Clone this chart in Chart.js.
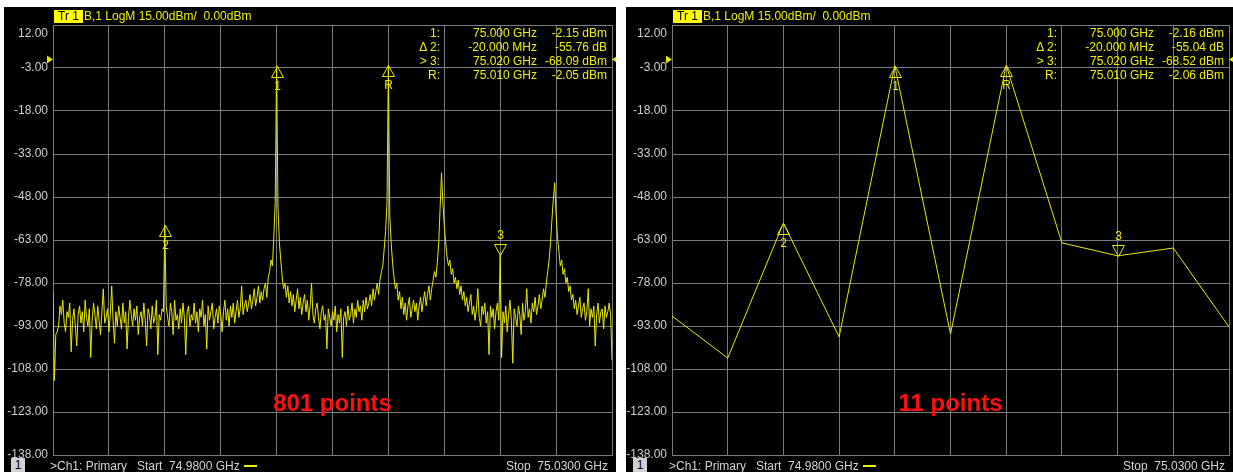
<!DOCTYPE html>
<html>
<head>
<meta charset="utf-8">
<script src="https://cdn.jsdelivr.net/npm/chart.js@4.4.1/dist/chart.umd.min.js"></script>
<style>
body{margin:0;background:#fff;width:1233px;height:472px;overflow:hidden;position:relative;font-family:"Liberation Sans",Arial,sans-serif;font-size:12px;}
.panel{position:absolute;background:#000;}
canvas{position:absolute;}
.t{position:absolute;white-space:pre;line-height:14px;}
.yel{color:#eeee00;}
.gry{color:#d4d4d4;}
.trbox{position:absolute;background:#ffff00;color:#000;line-height:13px;height:13px;padding:0 4px;white-space:pre;}
.chbox{position:absolute;background:#d0d0d0;color:#000;width:14px;height:14px;line-height:14px;text-align:center;}
.big{position:absolute;color:#ff1010;font-weight:bold;font-size:24px;line-height:24px;white-space:pre;transform:translateX(-50%);}
</style>
</head>
<body>
<div class="panel" style="left:4px;top:7px;width:612px;height:465px"></div>
<div class="panel" style="left:626px;top:7px;width:607px;height:465px"></div>
<canvas id="chartA" width="612" height="465" style="left:4px;top:7px"></canvas>
<canvas id="chartB" width="607" height="465" style="left:626px;top:7px"></canvas>
<div id="texts"></div>
<script>
// sweep
const startGHz = 74.98;
const stopGHz = 75.03;
const xGridGHz = [74.980, 74.985, 74.990, 74.995, 75.000, 75.005, 75.010, 75.015, 75.020, 75.025, 75.030];
const yTickValues = [12, -3, -18, -33, -48, -63, -78, -93, -108, -123, -138];
const refLevel = 0;

const traceA = [
    -81, -112, -96, -95, -93, -86, -89, -84, -92, -95, -88, -90, -85, -102, -91, -87, -93, -100, -89, -86,
    -92, -88, -95, -84, -90, -93, -87, -104, -91, -85, -89, -94, -86, -91, -96, -88, -80, -92, -90, -87,
    -95, -89, -79, -91, -99, -88, -93, -86, -90, -94, -85, -92, -88, -101, -90, -84, -89, -93, -87, -91,
    -86, -96, -90, -88, -93, -85, -91, -100, -87, -89, -94, -86, -92, -90, -84, -103, -89, -91, -87, -88,
    -57.81, -86, -90, -93, -85, -88, -96, -84, -91, -89, -94, -87, -92, -85, -90, -103, -88, -86, -93, -89,
    -91, -85, -92, -88, -95, -87, -90, -84, -93, -89, -101, -86, -91, -88, -85, -94, -90, -87, -92, -86,
    -89, -95, -88, -84, -91, -87, -93, -86, -90, -85, -92, -88, -84, -90, -87, -79, -89, -86, -84, -88,
    -85, -82, -87, -84, -80, -86, -83, -79, -85, -81, -84, -80, -78, -83, -76, -74, -70, -72, -62, -50,
    -2.15, -52, -64, -70, -76, -80, -78, -83, -79, -85, -81, -86, -82, -88, -84, -80, -87, -83, -89, -85,
    -82, -88, -84, -91, -86, -78, -89, -92, -87, -85, -90, -94, -88, -86, -91, -89, -101, -87, -90, -93,
    -88, -91, -86, -95, -89, -92, -87, -104, -90, -88, -93, -86, -91, -89, -85, -92, -87, -90, -84, -88,
    -86, -91, -84, -88, -83, -87, -85, -82, -86, -80, -84, -81, -78, -82, -77, -74, -72, -66, -60, -50,
    -2.05, -55, -64, -71, -76, -80, -78, -84, -81, -87, -83, -89, -85, -91, -86, -83, -90, -87, -84, -88,
    -85, -91, -86, -83, -88, -84, -81, -86, -82, -79, -84, -80, -77, -74, -76, -71, -64, -52, -39.6, -50,
    -58, -64, -69, -72, -70, -75, -73, -78, -76, -80, -77, -82, -79, -84, -81, -86, -83, -88, -85, -82,
    -89, -86, -91, -87, -80, -90, -93, -86, -89, -85, -92, -88, -103, -86, -90, -87, -94, -88, -85, -91,
    -68.09, -104, -88, -92, -86, -95, -89, -84, -91, -106, -87, -90, -93, -86, -89, -96, -85, -91, -88, -80,
    -90, -87, -92, -85, -88, -83, -89, -86, -82, -87, -84, -80, -83, -78, -74, -70, -64, -56, -49, -43,
    -54, -62, -67, -72, -70, -75, -73, -78, -76, -81, -79, -84, -82, -87, -84, -89, -86, -83, -90, -87,
    -85, -91, -88, -80, -93, -87, -90, -86, -100, -89, -85, -92, -88, -87, -94, -86, -90, -88, -85, -89,
    -105,
];

// right trace (dBm), 11 points
const traceB = [-89.5, -104.2, -57.10, -96.8, -2.16, -95.8, -2.06, -64, -68.52, -65.8, -93.3];

// markers
const markerNames = ['1', '2', '3', 'R'];
const markerFreqs = [75.000, 74.990, 75.020, 75.010];
const markerUp = [true, true, false, true];
const markerValsA = [-2.15, -57.81, -68.09, -2.05];
const markerValsB = [-2.16, -57.10, -68.52, -2.06];

// marker table
const tableLabels = ['1:', '\u0394 2:', '> 3:', 'R:'];
const tableFreqs = ['75.000 GHz', '-20.000 MHz', '75.020 GHz', '75.010 GHz'];
const tableValsA = ['-2.15 dBm', '-55.76 dB', '-68.09 dBm', '-2.05 dBm'];
const tableValsB = ['-2.16 dBm', '-55.04 dB', '-68.52 dBm', '-2.06 dBm'];

const headerText = 'B,1 LogM 15.00dBm/  0.00dBm';
const chText = '>Ch1: Primary   Start  74.9800 GHz';
const stopText = 'Stop  75.0300 GHz';

const traceColor = '#e8e800';
const gridColor = '#7c7c7c';
const fontFamily = '"Liberation Sans", Arial, sans-serif';

const markerPlugin = {
    id: 'markers',
    beforeDraw: function(chart) {
        // top scale label sits just inside the grid, like on the analyzer
        const items = chart.scales.y.getLabelItems();
        for (const item of items) {
            if (item.label === '12.00')
                item.options.translation[1] += 9;
        }
    },
    afterDatasetsDraw: function(chart, args, opts) {
        const ctx = chart.ctx;
        const x = chart.scales.x;
        const y = chart.scales.y;
        const area = chart.chartArea;
        ctx.save();
        ctx.strokeStyle = traceColor;
        ctx.fillStyle = traceColor;
        ctx.lineWidth = 1;
        ctx.font = '12px ' + fontFamily;
        ctx.textAlign = 'center';
        ctx.textBaseline = 'middle';
        for (let k = 0; k < markerNames.length; ++k) {
            const px = Math.round(x.getPixelForValue(markerFreqs[k])) + 0.5;
            const py = Math.round(y.getPixelForValue(opts.values[k])) + 0.5;
            const s = markerUp[k] ? 1 : -1;
            ctx.beginPath();
            ctx.moveTo(px, py);
            ctx.lineTo(px - 6, py + s * 11);
            ctx.lineTo(px + 6, py + s * 11);
            ctx.closePath();
            ctx.stroke();
            ctx.fillText(markerNames[k], px, py + s * 20);
        }
        // reference position arrows
        const ry = y.getPixelForValue(refLevel);
        ctx.beginPath();
        ctx.moveTo(area.left - 6, ry - 4);
        ctx.lineTo(area.left, ry);
        ctx.lineTo(area.left - 6, ry + 4);
        ctx.closePath();
        ctx.fill();
        ctx.beginPath();
        ctx.moveTo(area.right + 6, ry - 4);
        ctx.lineTo(area.right, ry);
        ctx.lineTo(area.right + 6, ry + 4);
        ctx.closePath();
        ctx.fill();
        ctx.restore();
    },
};

function makeChart(id, values, markerVals, axisWidth) {
    'use strict';
    const step = (stopGHz - startGHz) / (values.length - 1);
    const points = values.map((v, i) => ({x: startGHz + i * step, y: v}));
    return new Chart(document.getElementById(id), {
        type: 'line',
        data: {
            datasets: [{
                data: points,
                borderColor: traceColor,
                borderWidth: 1,
                pointRadius: 0,
                tension: 0,
                fill: false,
            }],
        },
        options: {
            responsive: false,
            animation: false,
            events: [],
            layout: {padding: {top: 18, bottom: 17, left: 0, right: 4}},
            plugins: {
                legend: {display: false},
                tooltip: {enabled: false},
                markers: {values: markerVals},
            },
            scales: {
                x: {
                    type: 'linear',
                    min: startGHz,
                    max: stopGHz,
                    afterBuildTicks: s => { s.ticks = xGridGHz.map(v => ({value: v})); },
                    ticks: {display: false},
                    grid: {color: gridColor, drawTicks: false},
                    border: {color: gridColor},
                    afterFit: s => { s.height = 0; },
                },
                y: {
                    min: -138,
                    max: 12,
                    afterBuildTicks: s => { s.ticks = yTickValues.map(v => ({value: v})); },
                    ticks: {
                        color: '#cfcfcf',
                        font: {family: fontFamily, size: 12},
                        padding: 5,
                        callback: v => v.toFixed(2),
                    },
                    grid: {color: gridColor, drawTicks: false},
                    border: {color: gridColor},
                    afterFit: s => { s.width = axisWidth; },
                },
            },
        },
        plugins: [markerPlugin],
    });
}

function addText(html) {
    document.getElementById('texts').insertAdjacentHTML('beforeend', html);
}

// header, marker table, channel bar and caption for one panel
function addPanelText(panelLeft, plotLeft, plotRight, tableVals, caption) {
    addText('<div class="trbox" style="left:' + (plotLeft + 1) + 'px;top:10px">Tr 1</div>');
    addText('<div class="t yel" style="left:' + (plotLeft + 31) + 'px;top:9px">' + headerText + '</div>');
    for (let k = 0; k < tableLabels.length; ++k) {
        const top = 26 + k * 14;
        addText('<div class="t yel" style="right:' + (1233 - (plotRight - 172)) + 'px;top:' + top + 'px">' + tableLabels[k].replace('>', '&gt;') + '</div>');
        addText('<div class="t yel" style="right:' + (1233 - (plotRight - 75)) + 'px;top:' + top + 'px">' + tableFreqs[k] + '</div>');
        addText('<div class="t yel" style="right:' + (1233 - (plotRight - 5)) + 'px;top:' + top + 'px">' + tableVals[k] + '</div>');
    }
    addText('<div class="chbox" style="left:' + (panelLeft + 7) + 'px;top:458px">1</div>');
    addText('<div class="t gry" style="left:' + (plotLeft - 3) + 'px;top:459px">' + chText.replace('>', '&gt;') + '</div>');
    addText('<div style="position:absolute;background:#eeee00;height:2px;width:13px;left:' + (plotLeft + 191) + 'px;top:465px"></div>');
    addText('<div class="t gry" style="right:' + (1233 - (plotRight - 4)) + 'px;top:459px">' + stopText + '</div>');
    addText('<div class="big" style="left:' + ((plotLeft + plotRight) / 2) + 'px;top:391px">' + caption + '</div>');
}

makeChart('chartA', traceA, markerValsA, 49);
makeChart('chartB', traceB, markerValsB, 46);
addPanelText(4, 53, 612, tableValsA, '801 points');
addPanelText(626, 672, 1229, tableValsB, '11 points');
</script>
</body>
</html>
